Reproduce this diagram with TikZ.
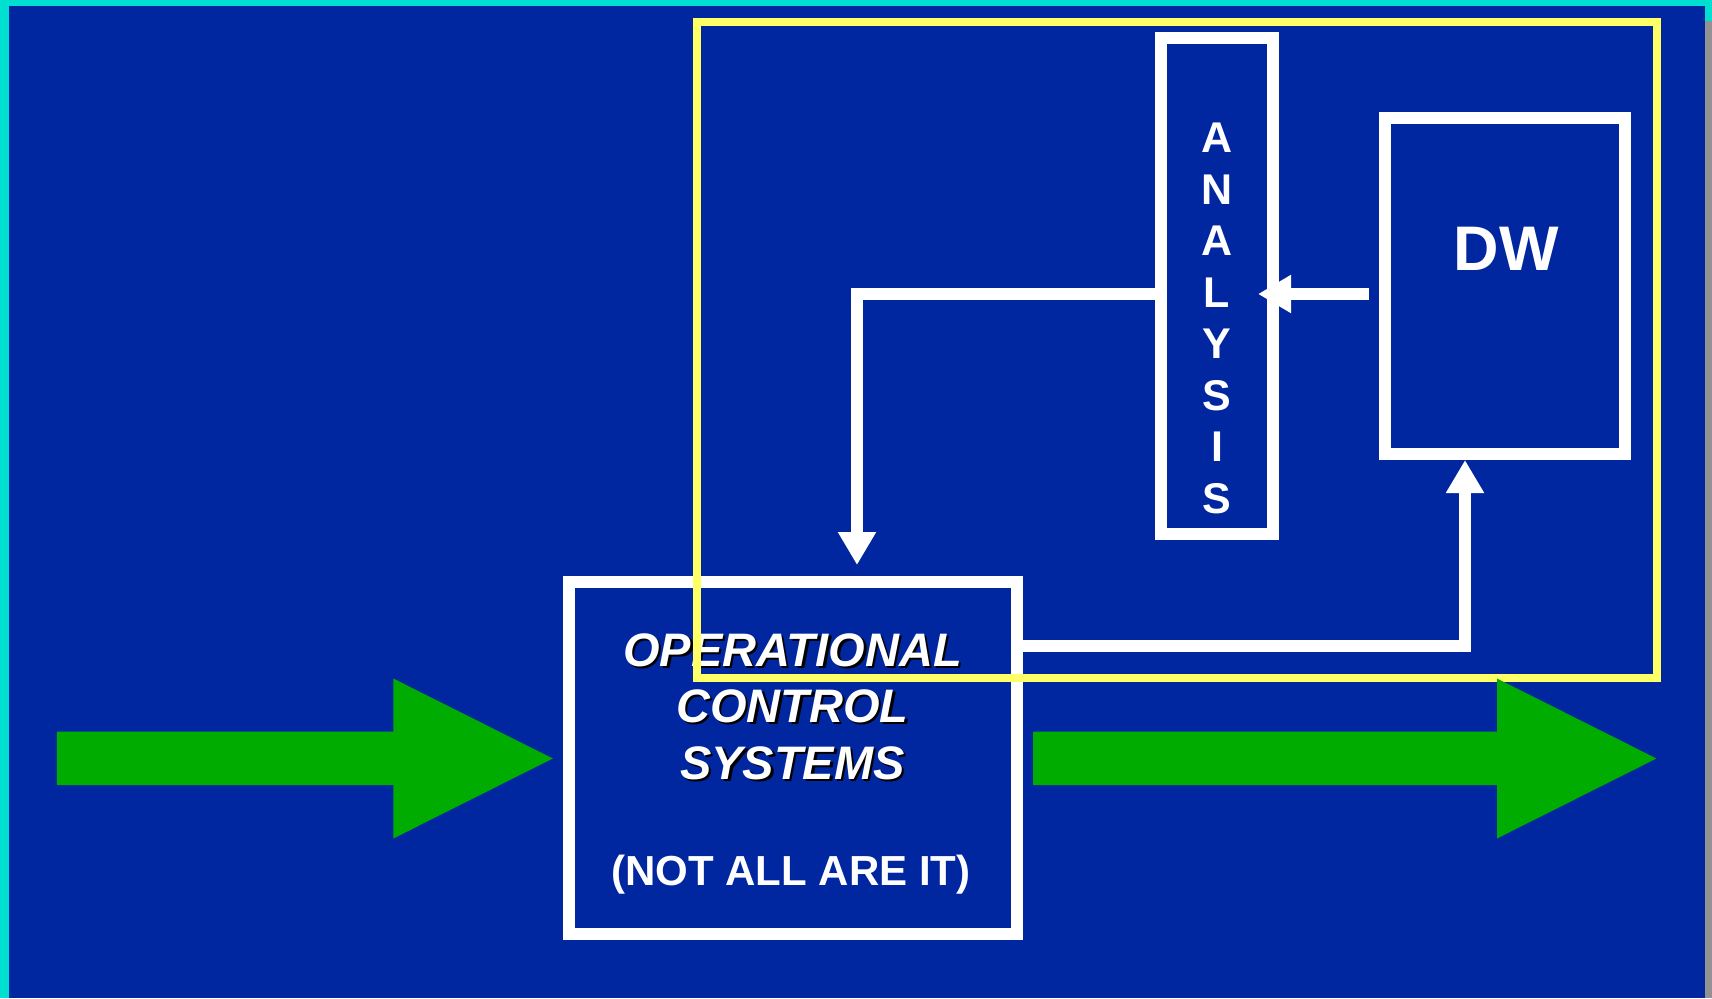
\documentclass[tikz,border=0pt]{standalone}
\usepackage{fontspec}
\setmainfont{Liberation Sans}
\usetikzlibrary{arrows.meta}
\definecolor{bgblue}{RGB}{0,38,160}
\definecolor{framecyan}{RGB}{0,224,208}
\definecolor{framegray}{RGB}{146,146,146}
\definecolor{hlyellow}{RGB}{255,255,102}
\definecolor{flowgreen}{RGB}{0,172,0}
\begin{document}
\begin{tikzpicture}[x=1pt,y=-1pt,
  box/.style={draw=white,line width=12pt,inner sep=0pt},
  conn/.style={draw=white,line width=12pt,-{Triangle[width=36pt,length=33pt]}},
  bigtxt/.style={font=\fontsize{47}{56}\selectfont\bfseries\itshape,text=white,anchor=base,inner sep=0pt},
  bigshadow/.style={bigtxt,text=black},
  notetxt/.style={font=\fontsize{42}{49}\selectfont\bfseries,text=white,anchor=base,inner sep=0pt},
  lettertxt/.style={font=\fontsize{43}{50}\selectfont\bfseries,text=white,anchor=base,inner sep=0pt},
  dwtxt/.style={font=\fontsize{63}{70}\selectfont\bfseries,text=white,anchor=base,inner sep=0pt},
  flow/.style={fill=flowgreen}]
\useasboundingbox (0,0) rectangle (1712,998);
% background and frame
\fill[bgblue] (0,0) rectangle (1712,998);
\fill[framecyan] (0,0) rectangle (1712,6);
\fill[framecyan] (0,0) rectangle (9,998);
\fill[framecyan] (1705,0) rectangle (1712,21);
\fill[framegray] (1705,21) rectangle (1712,998);
% boxes
\node[box,minimum width=448pt,minimum height=352pt] (ops) at (793,758) {};
\node[box,minimum width=112pt,minimum height=496pt] (ana) at (1217,286) {};
\node[box,minimum width=240pt,minimum height=336pt] (dw) at (1505,286) {};
% texts
\node[bigshadow] (t1s) at (795,668.5) {OPERATIONAL};
\node[bigtxt] (t1) at (792.5,666) {OPERATIONAL};
\node[bigshadow] (t2s) at (795,724.5) {CONTROL};
\node[bigtxt] (t2) at (792.5,722) {CONTROL};
\node[bigshadow] (t3s) at (795,781.5) {SYSTEMS};
\node[bigtxt] (t3) at (792.5,779) {SYSTEMS};
\node[notetxt] (note) at (791,885) {(NOT ALL ARE IT)};
\foreach \ch [count=\i from 0] in {A,N,A,L,Y,S,I,S}
  \node[lettertxt] (L\i) at (1217,152.7+51.5*\i) {\ch};
\node[dwtxt] (dwlabel) at (1506,270) {DW};
% connectors
\draw[conn,shorten >=11pt] ([yshift=-8pt]ana.west) -| ([xshift=64pt]ops.north);
\draw[conn,shorten <=10pt] ([yshift=-8pt]dw.west) -- ([xshift=-21pt,yshift=-8pt]ana.east);
\draw[conn] ([yshift=112pt]ops.east) -| ([xshift=-40pt]dw.south);
% yellow frame
\node[draw=hlyellow,line width=8pt,inner sep=0pt,minimum width=960pt,minimum height=656pt] (scope) at (1177,350) {};
% green flow arrows
\fill[flow] (56.9,731.5) -- (393.3,731.5) -- (393.3,678.5) -- (552.8,758.5) -- (393.3,838.5) -- (393.3,785) -- (56.9,785) -- cycle;
\fill[flow] (1033,731.5) -- (1497,731.5) -- (1497,678.5) -- (1656.4,758.5) -- (1497,838.5) -- (1497,785) -- (1033,785) -- cycle;
\end{tikzpicture}
\end{document}
